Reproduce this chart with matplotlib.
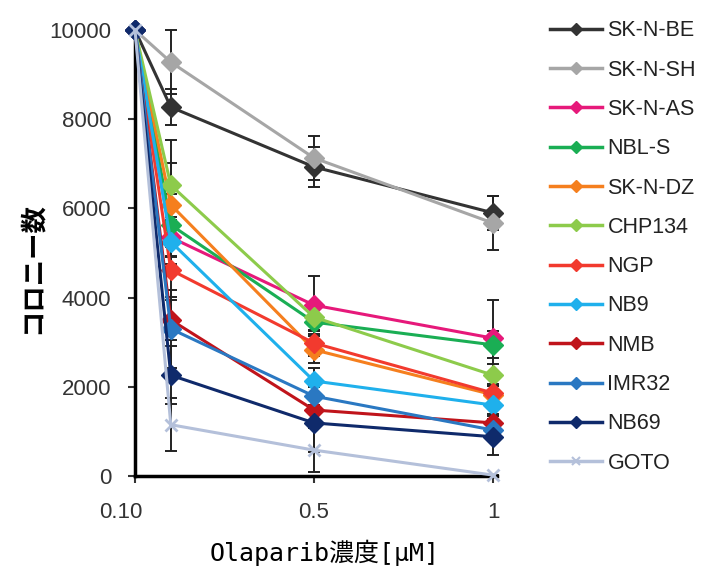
import matplotlib.pyplot as plt
from matplotlib.lines import Line2D
import matplotlib.transforms as mtransforms

plt.rcParams['font.family'] = ['Liberation Sans', 'DejaVu Sans']

# olaparib concentration [uM]
conc = [0, 0.1, 0.5, 1]

lines = ['SK-N-BE', 'SK-N-SH', 'SK-N-AS', 'NBL-S', 'SK-N-DZ', 'CHP134',
         'NGP', 'NB9', 'NMB', 'IMR32', 'NB69', 'GOTO']

sk_n_be = [10000, 8270, 6930, 5900]
sk_n_sh = [10000, 9280, 7130, 5670]
sk_n_as = [10000, 5350, 3830, 3090]
nbl_s   = [10000, 5630, 3450, 2940]
sk_n_dz = [10000, 6080, 2830, 1820]
chp134  = [10000, 6520, 3560, 2260]
ngp     = [10000, 4620, 2980, 1860]
nb9     = [10000, 5250, 2130, 1590]
nmb     = [10000, 3500, 1480, 1190]
imr32   = [10000, 3300, 1790, 1030]
nb69    = [10000, 2260, 1190, 880]
goto    = [10000, 1150, 580, 20]

err_sk_n_be = [0, 400, 450, 380]
err_sk_n_sh = [0, 720, 490, 600]
err_sk_n_as = [0, 450, 650, 860]
err_nbl_s   = [0, 700, 400, 300]
err_sk_n_dz = [0, 940, 300, 200]
err_chp134  = [0, 1010, 300, 250]
err_ngp     = [0, 600, 300, 200]
err_nb9     = [0, 500, 300, 200]
err_nmb     = [0, 450, 250, 150]
err_imr32   = [0, 870, 200, 150]
err_nb69    = [0, 650, 650, 400]
err_goto    = [0, 600, 500, 0]

values = [sk_n_be, sk_n_sh, sk_n_as, nbl_s, sk_n_dz, chp134,
          ngp, nb9, nmb, imr32, nb69, goto]
errors = [err_sk_n_be, err_sk_n_sh, err_sk_n_as, err_nbl_s, err_sk_n_dz, err_chp134,
          err_ngp, err_nb9, err_nmb, err_imr32, err_nb69, err_goto]

colors = ['#333333', '#a6a6a6', '#e6197a', '#1aae54', '#f57f1e', '#8dcb4b',
          '#f23a2e', '#1fb0ec', '#c0141b', '#2a78c2', '#0f2a6b', '#b4c0da']
markers = ['D'] * 11 + ['x']

fig = plt.figure(figsize=(7.01, 5.74), dpi=100)
ax = fig.add_axes([135/701, 1 - 476/574, 362/701, 446/574])

for v, e in zip(values, errors):
  ax.errorbar(conc, v, yerr=e, fmt='none', ecolor='#222222', elinewidth=1.4,
              capsize=4.5, capthick=1.4, zorder=2, clip_on=False)

for v, c, m in zip(values, colors, markers):
  ax.plot(conc, v, color=c, lw=2.2, marker=m, ms=10.5 if m == 'D' else 9,
          mew=2 if m == 'x' else 1, zorder=3, clip_on=False)

ax.set_xlim(0, 1.011)
ax.set_ylim(0, 10000)
ax.set_yticks([0, 2000, 4000, 6000, 8000, 10000])
ax.set_xticks([0, 0.5, 1])
ax.set_xticklabels(['0.10', '0.5', '1'])
ax.tick_params(labelsize=16, colors='#333333', width=1.5, length=5)
ax.tick_params(axis='x', pad=14)
ax.tick_params(axis='y', pad=12)
# shift the first x label a little to the left
off = mtransforms.ScaledTranslation(-14/100, 0, fig.dpi_scale_trans)
lab0 = ax.get_xticklabels()[0]
lab0.set_transform(lab0.get_transform() + off)

for s in ['top', 'right']:
  ax.spines[s].set_visible(False)
for s in ['left', 'bottom']:
  ax.spines[s].set_linewidth(2.5)
  ax.spines[s].set_color('black')

fig.text(32/701, 1 - 268/574, 'コロニー数', rotation=90, ha='center', va='center',
         fontsize=19, fontweight='bold', family=['Noto Sans CJK JP', 'DejaVu Sans'])
fig.text(325/701, 1 - 553/574, 'Olaparib濃度[μM]', ha='center', va='center',
         fontsize=18, family=['DejaVu Sans Mono', 'Noto Sans CJK JP'])

handles = [Line2D([], [], color=c, lw=2.5, marker=m, ms=6, mew=1.5 if m == 'x' else 1)
           for c, m in zip(colors, markers)]
fig.legend(handles, lines, loc='upper left', bbox_to_anchor=(531/701, 1 - 1/574),
           frameon=False, fontsize=15.5, handlelength=2.4, handletextpad=0.25,
           labelspacing=0.85, labelcolor='#222222')

fig.savefig('out.png', dpi=100)
